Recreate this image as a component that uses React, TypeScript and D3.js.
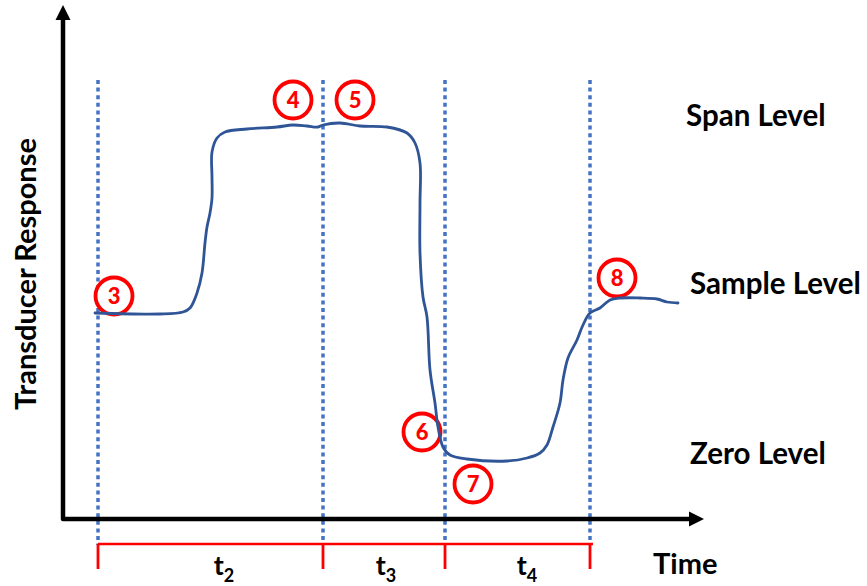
import React from 'react';
import * as d3 from 'd3';

const W = 867;
const H = 586;

// Transducer response trace (time units, response units)
const curveTime = [32, 97, 120, 127, 134, 139, 142, 144, 147, 149, 149, 149, 154, 162, 184, 214, 230, 244, 255, 260, 277, 297, 324, 344, 352, 357, 357, 357, 360, 364, 367, 372, 375, 380, 387, 404, 444, 464, 477, 484, 490, 497, 500, 505, 514, 520, 527, 537, 547, 557, 577, 594, 604, 615];
const curveResponse = [206, 205, 207, 211, 226, 246, 276, 292, 306, 321, 342, 367, 381, 387, 390, 392, 394, 393, 392, 394, 396, 393, 392, 386, 376, 356, 316, 266, 222, 202, 149, 116, 92, 72, 64, 60, 58, 61, 66, 74, 92, 116, 139, 161, 179, 194, 206, 211, 219, 221, 221, 220, 217, 216];

// Event markers (dotted verticals)
const markerTimes = [35, 260, 382, 527];

// Interval labels t2, t3, t4
const intervalSubs = ['2', '3', '4'];
const intervalLabelTime = [161, 323, 464];

// Numbered badges
const badgeLabels = ['3', '4', '5', '6', '7', '8'];
const badgeTime = [51, 230, 292, 359, 410, 554];
const badgeResponse = [223, 419, 419, 87, 35, 241];

// Level labels
const levelLabels = ['Span Level', 'Sample Level', 'Zero Level'];
const levelResponse = [403, 235, 65];
const levelTime = [623, 627, 627];

const FONT = 'Lato, Calibri, "Open Sans", sans-serif';
const BLUE = '#2F5597';
const DOT_BLUE = '#4472C4';
const RED = '#FF0000';

export default function App() {
  const x = d3.scaleLinear().domain([0, 640]).range([63, 703]);
  const y = d3.scaleLinear().domain([0, 511]).range([519, 8]);

  const line = d3
    .line<number>()
    .x((_, i) => x(curveTime[i]))
    .y((_, i) => y(curveResponse[i]))
    .curve(d3.curveCatmullRom.alpha(0.5));

  const x0 = x(0);
  const y0 = y(0);
  const bracketY = 544;
  const bracketTick = 569;

  return (
    <svg
      width={W}
      height={H}
      viewBox={`0 0 ${W} ${H}`}
      style={{ position: 'absolute', left: 0, top: 0, background: '#fff' }}
    >
      <rect x={0} y={0} width={W} height={H} fill="#fff" />

      {/* dotted markers */}
      {markerTimes.map((t, i) => (
        <line
          key={'m' + i}
          x1={x(t)}
          x2={x(t)}
          y1={80}
          y2={545}
          stroke={DOT_BLUE}
          strokeWidth={3.5}
          strokeDasharray="4 3.6"
        />
      ))}

      {/* axes */}
      <path
        d={`M${x0},20 L${x0},${y0} L690,${y0}`}
        fill="none"
        stroke="#000"
        strokeWidth={4.5}
        strokeLinejoin="round"
      />
      <polygon points={`${x0},5 ${x0 - 7.5},20 ${x0 + 7.5},20`} fill="#000" />
      <polygon points={`704,${y0} 689,${y0 - 7.5} 689,${y0 + 7.5}`} fill="#000" />

      {/* red interval bracket */}
      <line
        x1={x(markerTimes[0])}
        x2={x(markerTimes[markerTimes.length - 1]) + 3}
        y1={bracketY}
        y2={bracketY}
        stroke={RED}
        strokeWidth={2.6}
      />
      {markerTimes.map((t, i) => (
        <line
          key={'bt' + i}
          x1={x(t)}
          x2={x(t)}
          y1={bracketY}
          y2={bracketTick}
          stroke={RED}
          strokeWidth={2.8}
        />
      ))}

      {/* badges */}
      {badgeLabels.map((lab, i) => (
        <g key={'b' + i} transform={`translate(${x(badgeTime[i])},${y(badgeResponse[i])})`}>
          <circle r={18.5} fill="#fff" stroke={RED} strokeWidth={3.8} />
          <text
            textAnchor="middle"
            y={7.5}
            fontFamily={FONT}
            fontWeight={900}
            fontSize={22}
            fill={RED}
          >
            {lab}
          </text>
        </g>
      ))}

      {/* transducer trace */}
      <path
        d={line(curveTime) || ''}
        fill="none"
        stroke={BLUE}
        strokeWidth={2.8}
        strokeLinejoin="round"
        strokeLinecap="round"
      />

      {/* level labels */}
      {levelLabels.map((lab, i) => (
        <text
          key={'l' + i}
          x={x(levelTime[i])}
          y={y(levelResponse[i]) + 10}
          fontFamily={FONT}
          fontWeight={700}
          fontSize={29.5}
          fill="#000"
        >
          {lab}
        </text>
      ))}

      {/* interval labels */}
      {intervalSubs.map((s, i) => (
        <text
          key={'t' + i}
          x={x(intervalLabelTime[i])}
          y={575}
          textAnchor="middle"
          fontFamily={FONT}
          fontWeight={700}
          fontSize={27}
          fill="#000"
        >
          t
          <tspan fontSize={18} dy={7}>
            {s}
          </tspan>
        </text>
      ))}

      {/* axis titles */}
      <text x={653} y={574} fontFamily={FONT} fontWeight={700} fontSize={29} fill="#000">
        Time
      </text>
      <text
        transform="translate(36,274) rotate(-90)"
        textAnchor="middle"
        fontFamily={FONT}
        fontWeight={700}
        fontSize={29}
        fill="#000"
      >
        Transducer Response
      </text>
    </svg>
  );
}
